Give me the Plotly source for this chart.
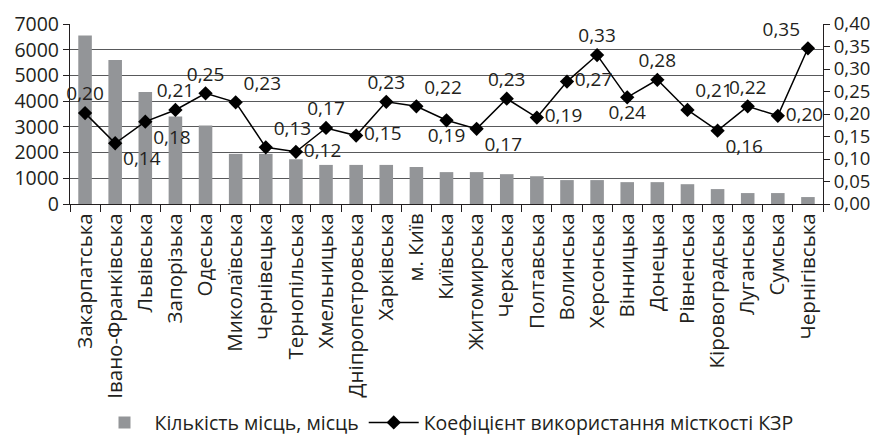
import plotly.graph_objects as go

regions = ["Закарпатська", "Івано-Франківська", "Львівська", "Запорізька", "Одеська",
           "Миколаївська", "Чернівецька", "Тернопільська", "Хмельницька", "Дніпропетровська",
           "Харківська", "м. Київ", "Київська", "Житомирська", "Черкаська", "Полтавська",
           "Волинська", "Херсонська", "Вінницька", "Донецька", "Рівненська", "Кіровоградська",
           "Луганська", "Сумська", "Чернігівська"]

places = [6550, 5600, 4360, 3400, 3050, 1950, 1950, 1740, 1520, 1520, 1520, 1440, 1240,
          1240, 1160, 1080, 930, 930, 850, 850, 770, 580, 425, 425, 270]

coef = [0.202, 0.135, 0.183, 0.209, 0.246, 0.226, 0.126, 0.116, 0.169, 0.152, 0.227,
        0.217, 0.186, 0.167, 0.234, 0.192, 0.272, 0.331, 0.237, 0.276, 0.209, 0.163,
        0.217, 0.196, 0.346]

label_pos = ["top center", "bottom right", "bottom right", "top center", "top center",
             "top right", "top right", "middle right", "top center", "middle right",
             "top center", "top right", "bottom center", "bottom right", "top center",
             "middle right", "middle right", "top center", "bottom center", "top center",
             "top right", "bottom right", "top center", "middle right", "top left"]

left_ticks = [0, 1000, 2000, 3000, 4000, 5000, 6000, 7000]
right_ticks = [0, 0.05, 0.10, 0.15, 0.20, 0.25, 0.30, 0.35, 0.40]
right_labels = ["0,00", "0,05", "0,10", "0,15", "0,20", "0,25", "0,30", "0,35", "0,40"]

FONT = "Open Sans"
TXT = "#231f20"

fig = go.Figure()
fig.add_trace(go.Bar(
    x=regions, y=places, name="Кількість місць, місць",
    marker=dict(color="#939598", line=dict(width=0)),
    width=0.45,
))
fig.add_trace(go.Scatter(
    x=regions, y=coef, yaxis="y2", name="Коефіцієнт використання місткості КЗР",
    mode="lines+markers+text",
    line=dict(color="#000000", width=1.5),
    marker=dict(symbol="diamond", size=11, color="#000000"),
    texttemplate="%{y:.2f}", textposition=label_pos,
    textfont=dict(family=FONT, size=19, color=TXT),
    cliponaxis=False,
))

fig.update_layout(
    width=870, height=432,
    margin=dict(l=62, r=55, t=16, b=236, autoexpand=False),
    paper_bgcolor="white", plot_bgcolor="white",
    separators=", ",
    font=dict(family=FONT, size=19, color=TXT),
    showlegend=True,
    legend=dict(orientation="h", yref="container", y=0.04, yanchor="middle",
                x=0.5, xanchor="center", font=dict(family=FONT, size=19.5, color=TXT),
                itemwidth=50, traceorder="normal"),
    bargap=0.55,
    xaxis=dict(type="category", range=[-0.5, len(regions) - 0.5], tickangle=-90,
               showline=True, linecolor="#231f20",
               linewidth=1.2, ticks="outside", ticklen=7, tickcolor="#231f20",
               tickson="boundaries", showgrid=False, automargin=False,
               tickfont=dict(family=FONT, size=20.5, color=TXT)),
    yaxis=dict(range=[0, 7000], tickvals=left_ticks, tickformat="d",
               showline=True, linecolor="#231f20", linewidth=1.2,
               ticks="outside", ticklen=6, tickcolor="#231f20", automargin=False,
               showgrid=True, gridcolor="#58595b", gridwidth=1, zeroline=False,
               tickfont=dict(family=FONT, size=19.5, color=TXT)),
    yaxis2=dict(range=[0, 0.40], tickvals=right_ticks, ticktext=right_labels,
                overlaying="y", side="right", showline=True, linecolor="#231f20",
                linewidth=1.2, ticks="outside", ticklen=6, tickcolor="#231f20",
                showgrid=False, zeroline=False, automargin=False,
                tickfont=dict(family=FONT, size=18.5, color=TXT)),
)

fig.write_html("out.html")
